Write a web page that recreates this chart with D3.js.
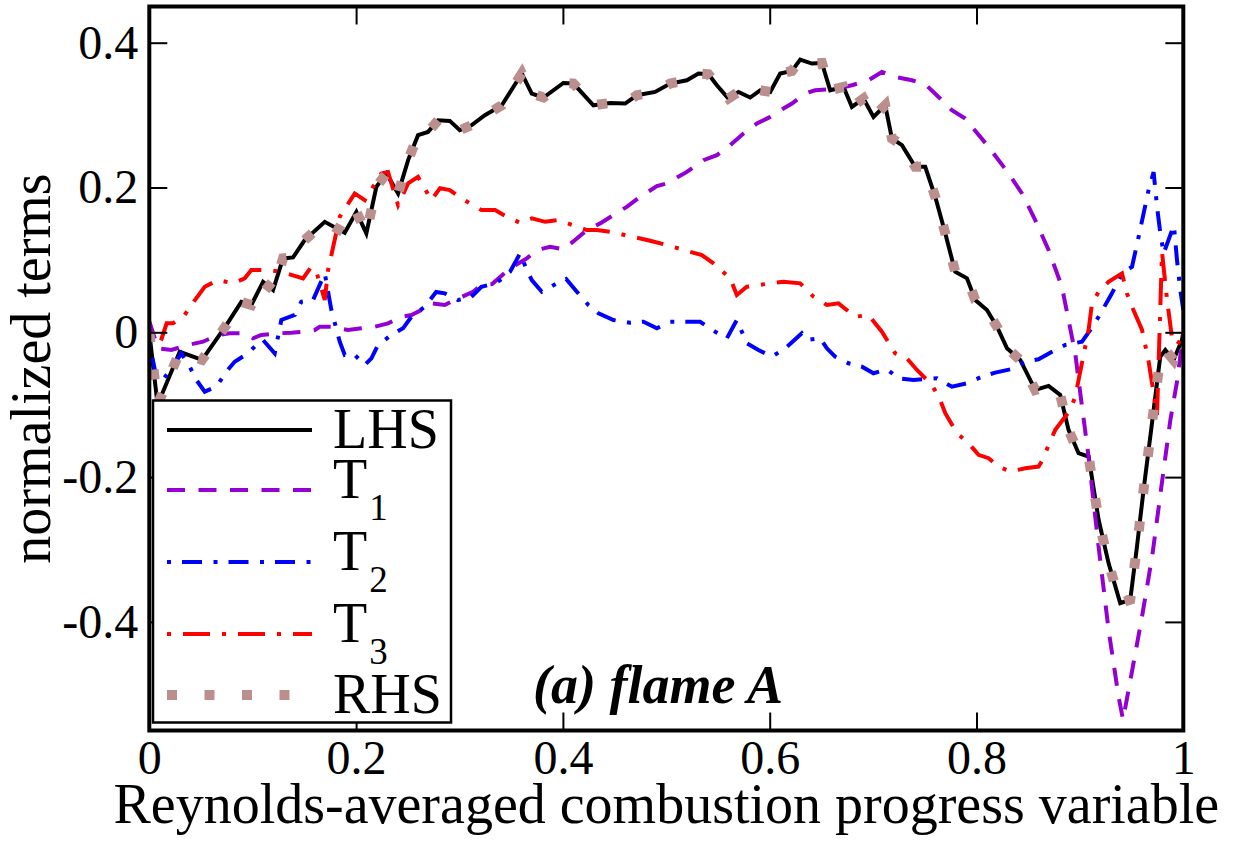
<!DOCTYPE html>
<html><head><meta charset="utf-8">
<script src="https://cdn.jsdelivr.net/npm/d3@7"></script>
<style>body{margin:0;background:#fff}svg{display:block}</style>
</head><body>
<svg id="c" width="1250" height="844"></svg>
<script>
// ---- data ----
const lhs = [[0,0],[0.008,-0.10],[0.0294,-0.027],[0.051,-0.038],[0.0745,0.010],[0.089,0.042],[0.0987,0.0377],[0.110,0.0698],[0.1197,0.0584],[0.1293,0.102],[0.139,0.1035],[0.1503,0.1274],[0.1697,0.1526],[0.189,0.1374],[0.2003,0.1664],[0.2099,0.1366],[0.2196,0.2009],[0.2293,0.2194],[0.2406,0.1918],[0.2503,0.2378],[0.2599,0.2723],[0.2696,0.2768],[0.2793,0.2929],[0.2906,0.292],[0.3003,0.2791],[0.3115,0.286],[0.3245,0.2998],[0.3341,0.3077],[0.3409,0.3136],[0.3603,0.3574],[0.3699,0.3298],[0.3812,0.3243],[0.4005,0.3444],[0.4102,0.3436],[0.4295,0.3136],[0.4457,0.3168],[0.4602,0.316],[0.4715,0.3274],[0.4892,0.332],[0.5037,0.3436],[0.5199,0.3481],[0.5311,0.3574],[0.5408,0.3564],[0.5489,0.3412],[0.5601,0.3229],[0.5698,0.332],[0.5811,0.3243],[0.5908,0.3343],[0.6005,0.332],[0.6101,0.3574],[0.6215,0.361],[0.6295,0.3767],[0.6408,0.3712],[0.6505,0.372],[0.6585,0.3343],[0.6714,0.3389],[0.6795,0.3113],[0.6907,0.3229],[0.7004,0.2975],[0.7117,0.3136],[0.7182,0.2677],[0.7279,0.2585],[0.7407,0.2285],[0.7504,0.2285],[0.7601,0.1871],[0.7698,0.1366],[0.7794,0.0836],[0.7908,0.0745],[0.7988,0.0446],[0.8101,0.0308],[0.8198,0.0077],[0.8295,-0.0221],[0.8423,-0.0382],[0.8568,-0.0796],[0.8697,-0.0741],[0.881,-0.0865],[0.889,-0.1348],[0.8987,-0.167],[0.9084,-0.1717],[0.9181,-0.259],[0.9277,-0.3188],[0.939,-0.374],[0.9487,-0.3694],[0.9552,-0.2958],[0.9616,-0.2176],[0.9697,-0.1256],[0.9777,-0.0337],[0.9826,-0.0244],[0.9906,-0.0382],[0.9987,-0.0106],[1.0,0.0]];
const rhs = [[0,0],[0.008,-0.10],[0.0294,-0.027],[0.051,-0.038],[0.0745,0.010],[0.089,0.042],[0.0987,0.0377],[0.110,0.0698],[0.1197,0.0584],[0.1293,0.102],[0.139,0.1035],[0.1503,0.1274],[0.1697,0.1526],[0.189,0.1374],[0.2003,0.1664],[0.2099,0.1366],[0.2196,0.2009],[0.2293,0.2194],[0.2406,0.1918],[0.2503,0.2378],[0.2599,0.2723],[0.2696,0.2768],[0.2793,0.2929],[0.2906,0.292],[0.3003,0.2791],[0.3115,0.286],[0.3245,0.2998],[0.3341,0.3077],[0.3409,0.3136],[0.3603,0.3574],[0.3699,0.3298],[0.3812,0.3243],[0.4005,0.3444],[0.4102,0.3436],[0.4295,0.3136],[0.4457,0.3168],[0.4602,0.316],[0.4715,0.3274],[0.4892,0.332],[0.5037,0.3436],[0.5199,0.3481],[0.5311,0.3574],[0.5408,0.3564],[0.5489,0.3412],[0.5601,0.3229],[0.5698,0.332],[0.5811,0.3243],[0.5908,0.3343],[0.6005,0.332],[0.6101,0.3574],[0.6215,0.361],[0.6295,0.3767],[0.6408,0.3712],[0.6505,0.372],[0.6585,0.3343],[0.6714,0.3389],[0.6795,0.3113],[0.6907,0.3229],[0.7004,0.2975],[0.7117,0.3136],[0.7182,0.2677],[0.7279,0.2585],[0.7407,0.2285],[0.7504,0.2285],[0.7601,0.1871],[0.7698,0.1366],[0.7794,0.0836],[0.7908,0.0745],[0.7988,0.0446],[0.8101,0.0308],[0.8198,0.0077],[0.8295,-0.0221],[0.8423,-0.0382],[0.8568,-0.0796],[0.8697,-0.0741],[0.881,-0.0865],[0.889,-0.1348],[0.8987,-0.167],[0.9084,-0.1717],[0.9181,-0.259],[0.9277,-0.3188],[0.939,-0.374],[0.9487,-0.3694],[0.9552,-0.2958],[0.9616,-0.2176],[0.9697,-0.1256],[0.9777,-0.0337],[0.9826,-0.0244],[0.9906,-0.0382],[0.9987,-0.0106],[1.0,0.0]];
const t1 = [[0,0.015],[0.0084,-0.0221],[0.0213,-0.0244],[0.0374,-0.0175],[0.052,-0.013],[0.0665,-0.0037],[0.0778,-0.0014],[0.0923,-0.0014],[0.1003,-0.0083],[0.1083,-0.0037],[0.1245,-0.0014],[0.1374,-0.0006],[0.1503,0.0008],[0.16,0.0032],[0.1648,0.0077],[0.1761,0.0077],[0.1922,0.0032],[0.2051,0.0055],[0.2181,0.0077],[0.2309,0.0124],[0.2438,0.0215],[0.2535,0.0239],[0.2631,0.0308],[0.2728,0.04],[0.2858,0.0377],[0.2954,0.0446],[0.3131,0.056],[0.3212,0.0653],[0.3315,0.0666],[0.3489,0.0883],[0.3651,0.1021],[0.3748,0.1136],[0.3876,0.1181],[0.4005,0.1145],[0.4118,0.1274],[0.4231,0.1412],[0.436,0.1504],[0.4489,0.1619],[0.4618,0.1733],[0.4747,0.1871],[0.4909,0.2019],[0.5005,0.2056],[0.5199,0.2216],[0.5359,0.2377],[0.5489,0.2447],[0.5618,0.2585],[0.5746,0.2746],[0.5876,0.2884],[0.6005,0.2975],[0.6133,0.3091],[0.6215,0.316],[0.6343,0.3298],[0.644,0.3343],[0.665,0.3367],[0.6795,0.3412],[0.6956,0.3481],[0.7085,0.3596],[0.7214,0.3527],[0.7375,0.3481],[0.7504,0.3426],[0.7633,0.3251],[0.7762,0.3067],[0.7891,0.2953],[0.7956,0.2837],[0.8117,0.2561],[0.831,0.2194],[0.844,0.1918],[0.8568,0.155],[0.8697,0.1136],[0.8826,0.0629],[0.889,0.017],[0.8955,-0.029],[0.8987,-0.0658],[0.9084,-0.1721],[0.9181,-0.2963],[0.9277,-0.4108],[0.9374,-0.5032],[0.9417,-0.535],[0.9507,-0.466],[0.9604,-0.3901],[0.9701,-0.3073],[0.9797,-0.2038],[0.9875,-0.121],[0.9942,-0.0658],[1.0,0.0]];
const t2 = [[0,-0.015],[0.0068,-0.0613],[0.0116,-0.0682],[0.0229,-0.0475],[0.031,-0.029],[0.0391,-0.0475],[0.0455,-0.0658],[0.0536,-0.082],[0.0648,-0.0751],[0.0745,-0.0544],[0.0826,-0.0406],[0.0955,-0.029],[0.1035,-0.0175],[0.11,-0.0106],[0.1213,-0.029],[0.1277,0.017],[0.1407,0.0239],[0.147,0.0422],[0.1584,0.0446],[0.1697,0.0814],[0.1761,0.0308],[0.1842,-0.013],[0.189,-0.0313],[0.1971,-0.029],[0.2084,-0.0451],[0.2148,-0.0359],[0.2212,-0.0175],[0.2341,-0.0037],[0.2454,0.0055],[0.2535,0.0215],[0.2664,0.0353],[0.2774,0.0557],[0.2858,0.0538],[0.2986,0.0446],[0.3115,0.0491],[0.3212,0.0629],[0.3341,0.0676],[0.3393,0.0722],[0.3489,0.0836],[0.3586,0.109],[0.3651,0.086],[0.3699,0.0722],[0.3796,0.056],[0.3941,0.0676],[0.4031,0.0736],[0.4135,0.056],[0.4247,0.0377],[0.4344,0.0262],[0.4489,0.017],[0.465,0.0132],[0.4779,0.0146],[0.4909,0.0055],[0.5037,0.0146],[0.5199,0.0146],[0.5327,0.0146],[0.5473,0.0008],[0.5586,-0.0083],[0.5682,0.017],[0.5779,-0.0152],[0.5891,-0.0244],[0.6021,-0.0337],[0.615,-0.0221],[0.6311,-0.0014],[0.636,-0.0106],[0.6488,-0.0083],[0.6553,-0.0221],[0.6633,-0.0337],[0.6762,-0.0428],[0.6892,-0.0475],[0.7004,-0.0566],[0.7134,-0.0511],[0.7246,-0.0635],[0.7391,-0.0658],[0.7617,-0.0635],[0.7762,-0.0751],[0.7908,-0.0704],[0.8053,-0.0613],[0.8181,-0.0557],[0.8327,-0.0511],[0.8472,-0.0406],[0.86,-0.0373],[0.873,-0.0268],[0.8859,-0.0175],[0.902,-0.013],[0.9101,0.0032],[0.9181,0.0215],[0.931,0.0538],[0.9407,0.0814],[0.9504,0.0905],[0.9568,0.1319],[0.9664,0.1964],[0.9713,0.2212],[0.9746,0.1733],[0.9778,0.1366],[0.981,0.109],[0.9909,0.148],[0.9939,0.0998],[0.9971,0.0584],[1.0,0.031]];
const t3 = [[0,-0.005],[0.0104,-0.0152],[0.0168,0.0124],[0.0229,0.0124],[0.0342,0.0239],[0.0406,0.0377],[0.0536,0.0629],[0.0665,0.0722],[0.081,0.0676],[0.0923,0.0745],[0.0987,0.086],[0.1132,0.086],[0.1277,0.0836],[0.1487,0.0745],[0.1567,0.0905],[0.1616,0.0836],[0.1697,0.0446],[0.1729,0.086],[0.1842,0.1595],[0.1987,0.1918],[0.2084,0.1826],[0.2244,0.2194],[0.2309,0.2212],[0.2406,0.1757],[0.2503,0.2056],[0.2599,0.2147],[0.2728,0.1826],[0.2812,0.1991],[0.2906,0.1964],[0.3018,0.1849],[0.3212,0.1688],[0.3344,0.1688],[0.3458,0.1595],[0.3586,0.1512],[0.3699,0.1573],[0.3828,0.1526],[0.3957,0.155],[0.4231,0.1412],[0.4328,0.1412],[0.4457,0.1388],[0.4699,0.1311],[0.4844,0.1264],[0.4972,0.1218],[0.5231,0.1112],[0.5344,0.1067],[0.5456,0.0952],[0.5618,0.0745],[0.5682,0.0515],[0.5779,0.0629],[0.6005,0.0676],[0.6133,0.0698],[0.6295,0.0676],[0.6424,0.0491],[0.6553,0.0377],[0.6665,0.04],[0.6827,0.0215],[0.6956,0.0239],[0.7085,0.0008],[0.7214,-0.029],[0.7327,-0.0359],[0.7424,-0.052],[0.7569,-0.0727],[0.7649,-0.0934],[0.7698,-0.1118],[0.7811,-0.1394],[0.7923,-0.1532],[0.802,-0.1693],[0.8117,-0.1739],[0.8213,-0.1855],[0.8327,-0.1924],[0.8472,-0.1877],[0.86,-0.1855],[0.8649,-0.1739],[0.8697,-0.1555],[0.8762,-0.1348],[0.8907,-0.1072],[0.8955,-0.0889],[0.9084,0.0032],[0.9117,0.04],[0.9181,0.056],[0.9277,0.0698],[0.9407,0.0814],[0.9455,0.0538],[0.9504,0.0353],[0.9601,0.0032],[0.9662,-0.038],[0.9746,-0.114],[0.9794,0.1108],[0.9843,0.0446],[0.9891,-0.0079],[0.994,-0.0175],[1.0,-0.004]];

const xTicks = [0, 0.2, 0.4, 0.6, 0.8, 1];
const xTickLabels = ["0", "0.2", "0.4", "0.6", "0.8", "1"];
const yTicks = [-0.4, -0.2, 0, 0.2, 0.4];
const yTickLabels = ["-0.4", "-0.2", "0", "0.2", "0.4"];
const seriesNames = ["LHS", "T", "T", "T", "RHS"];
const seriesSubs = ["", "1", "2", "3", ""];
const xTitle = "Reynolds-averaged combustion progress variable";
const yTitle = "normalized terms";
const annotation = "(a) flame A";

// ---- layout ----
const L = 149.3, R = 1183.3, T = 6.5, B = 730.5;
const font = "'Liberation Serif','Times New Roman',serif";
const svg = d3.select("#c");
const x = d3.scaleLinear().domain([0, 1]).range([L, R]);
const y = d3.scaleLinear().domain([-0.55, 0.45]).range([B, T]);

const styles = [
  {data: lhs, color: "#000000", width: 4, dash: null},
  {data: t1, color: "#9400d3", width: 4, dash: "18,13.5"},
  {data: t2, color: "#0000ff", width: 4, dash: "4,11,20,11.5"},
  {data: t3, color: "#ff0000", width: 4, dash: "4,12,27,12"},
  {data: rhs, color: "#bc8f8f", width: 10, dash: "10,27.5"}
];

// curves
const line = d3.line().x(d => x(d[0])).y(d => y(d[1]));
svg.append("defs").append("clipPath").attr("id", "clip")
  .append("rect").attr("x", L).attr("y", T).attr("width", R - L).attr("height", B - T);
const g = svg.append("g").attr("clip-path", "url(#clip)");
styles.forEach(s => {
  g.append("path").datum(s.data).attr("d", line)
    .attr("fill", "none").attr("stroke", s.color).attr("stroke-width", s.width)
    .attr("stroke-dasharray", s.dash).attr("stroke-linejoin", "miter");
});

// axes (inward ticks on all four sides)
function styleAxis(sel, showLabels) {
  sel.select(".domain").remove();
  sel.selectAll(".tick line").attr("stroke", "#000").attr("stroke-width", 2);
  sel.selectAll(".tick text").attr("font-family", font).attr("font-size", 48).attr("fill", "#000");
  if (!showLabels) sel.selectAll(".tick text").remove();
}
svg.append("g").attr("transform", `translate(0,${B})`)
  .call(d3.axisBottom(x).tickValues(xTicks).tickFormat((d, i) => xTickLabels[i]).tickSizeInner(-18).tickSizeOuter(0).tickPadding(9))
  .call(s => styleAxis(s, true));
svg.append("g").attr("transform", `translate(0,${T})`)
  .call(d3.axisTop(x).tickValues(xTicks.slice(1, -1)).tickSizeInner(-18).tickSizeOuter(0))
  .call(s => styleAxis(s, false));
svg.append("g").attr("transform", `translate(${L},0)`)
  .call(d3.axisLeft(y).tickValues(yTicks).tickFormat((d, i) => yTickLabels[i]).tickSizeInner(-18).tickSizeOuter(0).tickPadding(11))
  .call(s => styleAxis(s, true));
svg.append("g").attr("transform", `translate(${R},0)`)
  .call(d3.axisRight(y).tickValues(yTicks).tickSizeInner(-18).tickSizeOuter(0))
  .call(s => styleAxis(s, false));

// frame
svg.append("rect").attr("x", L).attr("y", T).attr("width", R - L).attr("height", B - T)
  .attr("fill", "none").attr("stroke", "#000").attr("stroke-width", 4);

// titles
svg.append("text").attr("x", (L + R) / 2).attr("y", 823).attr("text-anchor", "middle")
  .attr("font-family", font).attr("font-size", 56).text(xTitle);
svg.append("text").attr("transform", `translate(50,${(T + B) / 2}) rotate(-90)`).attr("text-anchor", "middle")
  .attr("font-family", font).attr("font-size", 56).text(yTitle);

// annotation
svg.append("text").attr("x", 533).attr("y", 703).attr("font-family", font)
  .attr("font-size", 54).attr("font-weight", "bold").attr("font-style", "italic").text(annotation);

// legend
const lg = svg.append("g");
lg.append("rect").attr("x", 153).attr("y", 400.5).attr("width", 298).attr("height", 322)
  .attr("fill", "#fff").attr("stroke", "#000").attr("stroke-width", 2.5);
const lineYs = [430, 490, 562, 634, 695];
const textYs = [448, 498, 570, 642, 713];
styles.forEach((s, i) => {
  lg.append("line").attr("x1", 167).attr("x2", 312).attr("y1", lineYs[i]).attr("y2", lineYs[i])
    .attr("stroke", s.color).attr("stroke-width", s.width).attr("stroke-dasharray", s.dash);
  const t = lg.append("text").attr("x", 333).attr("y", textYs[i]).attr("font-family", font).attr("font-size", 56);
  t.append("tspan").text(seriesNames[i]);
  if (seriesSubs[i]) t.append("tspan").attr("font-size", 37).attr("dx", 2).attr("dy", 22).text(seriesSubs[i]);
});
</script>
</body></html>
